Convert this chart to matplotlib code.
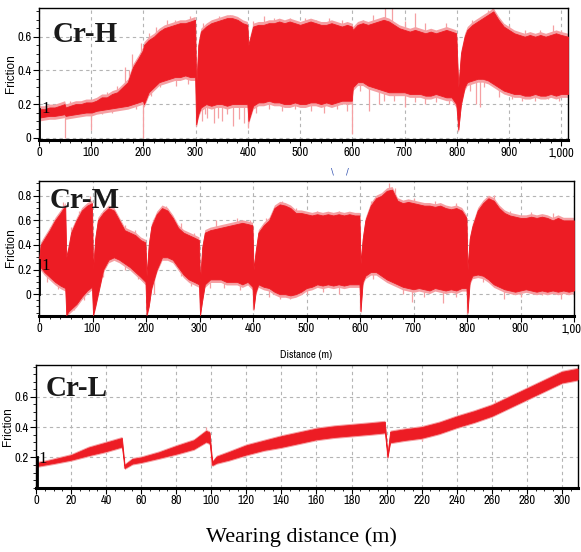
import numpy as np
import matplotlib
matplotlib.use("Agg")
import matplotlib.pyplot as plt
from matplotlib import font_manager
from matplotlib.ticker import MultipleLocator, FuncFormatter, FixedLocator

# ---------------- data ----------------
# Cr-H : distance (m), upper / lower envelope of the dense friction trace
h_dist = [0, 1, 10, 20, 30, 40, 49, 51, 60, 70, 80, 90, 99, 101, 110, 120, 130, 140, 150, 160,
          170, 180, 190, 199, 201, 210, 220, 230, 240, 250, 260, 270, 280, 290, 299, 301, 305,
          310, 320, 330, 340, 350, 360, 370, 380, 390, 399, 401, 410, 420, 430, 440, 450, 460,
          470, 480, 490, 500, 510, 520, 530, 540, 550, 560, 570, 580, 590, 599, 601, 610, 620,
          630, 640, 650, 660, 670, 680, 690, 700, 710, 720, 730, 740, 750, 760, 770, 780, 790,
          799, 803, 808, 815, 820, 830, 840, 850, 860, 870, 880, 890, 900, 910, 920, 930, 940,
          950, 960, 970, 980, 990, 1000, 1013]
h_upper = [0.13, 0.17, 0.17, 0.18, 0.18, 0.19, 0.20, 0.18, 0.19, 0.20, 0.20, 0.21, 0.21, 0.21,
           0.22, 0.24, 0.24, 0.26, 0.27, 0.30, 0.33, 0.42, 0.47, 0.52, 0.55, 0.58, 0.60, 0.63,
           0.65, 0.66, 0.67, 0.68, 0.68, 0.69, 0.70, 0.30, 0.55, 0.63, 0.66, 0.68, 0.69, 0.70,
           0.71, 0.71, 0.70, 0.68, 0.67, 0.55, 0.66, 0.67, 0.67, 0.68, 0.68, 0.69, 0.68, 0.69,
           0.68, 0.67, 0.68, 0.69, 0.68, 0.67, 0.67, 0.68, 0.67, 0.66, 0.67, 0.66, 0.64, 0.67,
           0.68, 0.67, 0.68, 0.69, 0.70, 0.69, 0.67, 0.65, 0.64, 0.63, 0.64, 0.63, 0.62, 0.63,
           0.62, 0.63, 0.64, 0.63, 0.62, 0.30, 0.50, 0.60, 0.64, 0.67, 0.69, 0.71, 0.73, 0.75,
           0.70, 0.66, 0.64, 0.62, 0.61, 0.60, 0.61, 0.60, 0.61, 0.60, 0.61, 0.62, 0.61, 0.60]
h_lower = [0.12, 0.12, 0.125, 0.13, 0.13, 0.135, 0.14, 0.13, 0.135, 0.14, 0.145, 0.15, 0.15,
           0.15, 0.16, 0.165, 0.17, 0.175, 0.18, 0.185, 0.19, 0.20, 0.21, 0.22, 0.20, 0.27,
           0.30, 0.33, 0.34, 0.35, 0.36, 0.36, 0.37, 0.36, 0.36, 0.08, 0.14, 0.18, 0.20, 0.19,
           0.20, 0.20, 0.19, 0.20, 0.20, 0.20, 0.20, 0.10, 0.19, 0.21, 0.21, 0.22, 0.21, 0.21,
           0.20, 0.20, 0.21, 0.20, 0.20, 0.21, 0.21, 0.20, 0.21, 0.20, 0.21, 0.22, 0.22, 0.22,
           0.30, 0.33, 0.33, 0.31, 0.30, 0.29, 0.28, 0.27, 0.27, 0.27, 0.27, 0.26, 0.26, 0.26,
           0.25, 0.25, 0.26, 0.25, 0.24, 0.24, 0.20, 0.05, 0.20, 0.30, 0.33, 0.34, 0.35, 0.35,
           0.34, 0.32, 0.30, 0.28, 0.27, 0.26, 0.26, 0.25, 0.25, 0.26, 0.25, 0.25, 0.26, 0.25,
           0.26, 0.26]
h_spike_dist = [50, 100, 200, 300, 322, 335, 350, 372, 392, 400, 600, 632, 652, 700, 803, 836,
                845, 18, 120, 140, 160, 185, 215, 232, 262, 285, 312, 318, 342, 360, 383, 415,
                440, 465, 490, 520, 545, 570, 590, 615, 660, 680, 720, 740, 760, 785, 825, 852,
                880, 905, 925, 950, 975, 995,
                165, 178, 195, 245, 430, 555, 640, 663, 676, 720, 860, 868, 985, 60, 130, 150,
                172, 210, 225, 260, 290, 315, 345, 365, 410, 450, 480, 510, 530, 580, 620, 700,
                740, 780, 830, 900, 930, 960, 1000]
h_spike_val = [0.0, 0.045, 0.0, 0.07, 0.12, 0.09, 0.10, 0.07, 0.09, 0.06, 0.025, 0.16, 0.20,
               0.18, 0.04, 0.20, 0.18, 0.11, 0.14, 0.15, 0.17, 0.17, 0.25, 0.30, 0.31, 0.32,
               0.10, 0.14, 0.12, 0.14, 0.11, 0.15, 0.17, 0.16, 0.17, 0.16, 0.15, 0.17, 0.16,
               0.28, 0.22, 0.22, 0.21, 0.20, 0.21, 0.20, 0.28, 0.30, 0.24, 0.23, 0.22, 0.22,
               0.23, 0.22,
               0.42, 0.50, 0.56, 0.70, 0.72, 0.71, 0.73, 0.78, 0.78, 0.74, 0.76, 0.78, 0.67,
               0.22, 0.27, 0.31, 0.40, 0.62, 0.66, 0.70, 0.72, 0.68, 0.72, 0.73, 0.69, 0.71,
               0.71, 0.71, 0.70, 0.70, 0.70, 0.69, 0.68, 0.68, 0.70, 0.67, 0.64, 0.64, 0.64]

# Cr-M
m_dist = [0, 3, 10, 20, 30, 40, 49, 51, 55, 60, 70, 80, 90, 99, 101, 105, 110, 120, 130, 140,
          150, 160, 170, 180, 190, 199, 201, 205, 210, 220, 230, 240, 250, 260, 270, 280, 290,
          299, 301, 305, 310, 320, 330, 340, 350, 360, 370, 380, 390, 399, 401, 405, 410, 420,
          430, 440, 450, 460, 470, 480, 490, 500, 510, 520, 530, 540, 550, 560, 570, 580, 590,
          599, 601, 605, 610, 620, 630, 640, 650, 660, 670, 680, 690, 700, 710, 720, 730, 740,
          750, 760, 770, 780, 790, 799, 801, 805, 810, 820, 830, 840, 850, 860, 870, 880, 890,
          900, 910, 920, 930, 940, 950, 960, 970, 980, 990, 1000]
m_upper = [0.28, 0.40, 0.45, 0.52, 0.60, 0.66, 0.72, 0.30, 0.38, 0.50, 0.60, 0.68, 0.72, 0.74,
           0.20, 0.45, 0.60, 0.66, 0.70, 0.68, 0.60, 0.52, 0.50, 0.48, 0.44, 0.42, 0.15, 0.40,
           0.55, 0.65, 0.70, 0.68, 0.62, 0.54, 0.50, 0.48, 0.46, 0.44, 0.10, 0.38, 0.50, 0.52,
           0.53, 0.54, 0.55, 0.56, 0.57, 0.58, 0.57, 0.56, 0.20, 0.35, 0.50, 0.56, 0.60, 0.70,
           0.73, 0.72, 0.70, 0.66, 0.66, 0.65, 0.64, 0.65, 0.64, 0.65, 0.64, 0.65, 0.64, 0.65,
           0.64, 0.64, 0.25, 0.45, 0.60, 0.72, 0.78, 0.80, 0.84, 0.85, 0.76, 0.74, 0.75, 0.74,
           0.73, 0.72, 0.72, 0.71, 0.72, 0.70, 0.69, 0.70, 0.68, 0.62, 0.20, 0.45, 0.55, 0.68,
           0.74, 0.78, 0.76, 0.70, 0.66, 0.64, 0.63, 0.62, 0.62, 0.63, 0.62, 0.63, 0.62, 0.60,
           0.62, 0.60, 0.60, 0.60]
m_lower = [0.20, 0.22, 0.18, 0.14, 0.10, 0.07, 0.05, -0.17, -0.14, -0.12, -0.08, -0.02, 0.03,
           0.06, -0.17, -0.10, 0.00, 0.20, 0.28, 0.30, 0.28, 0.25, 0.22, 0.18, 0.14, 0.10, -0.17,
           -0.10, 0.05, 0.20, 0.30, 0.30, 0.28, 0.22, 0.16, 0.12, 0.10, 0.08, -0.17, -0.05,
           0.08, 0.12, 0.12, 0.12, 0.10, 0.10, 0.10, 0.08, 0.10, 0.06, -0.12, 0.02, 0.08, 0.06,
           0.05, 0.02, 0.00, 0.00, -0.01, 0.00, 0.02, 0.05, 0.06, 0.08, 0.07, 0.08, 0.07, 0.08,
           0.07, 0.08, 0.08, 0.08, -0.14, 0.10, 0.15, 0.18, 0.18, 0.15, 0.12, 0.10, 0.08, 0.06,
           0.05, 0.04, 0.05, 0.04, 0.03, 0.05, 0.04, 0.03, 0.04, 0.03, 0.05, 0.05, -0.15, 0.10,
           0.15, 0.16, 0.15, 0.12, 0.08, 0.06, 0.04, 0.03, 0.02, 0.03, 0.04, 0.03, 0.02, 0.03,
           0.02, 0.03, 0.02, 0.03, 0.02, 0.03]
m_spike_dist = [400, 470, 600, 698, 755, 800, 870, 975, 15, 35, 65, 85, 120, 160, 185, 215, 265,
                285, 320, 345, 375, 430, 450, 500, 530, 560, 625, 680, 720, 780, 830, 900, 940,
                1000,
                45, 95, 135, 237, 455, 590, 655, 665, 850, 20, 60, 75, 115, 160, 180, 215, 265,
                290, 330, 370, 395, 425, 480, 520, 560, 620, 700, 740, 780, 880, 920, 960]
m_spike_val = [-0.13, -0.04, -0.14, -0.06, -0.07, -0.16, -0.04, -0.04, 0.10, 0.04, -0.13, -0.05,
               0.14, 0.20, 0.12, 0.00, 0.15, 0.07, 0.05, 0.05, 0.03, -0.02, -0.04, 0.00, 0.02,
               0.00, 0.12, 0.00, -0.02, -0.02, 0.10, -0.02, -0.01, -0.02,
               0.75, 0.80, 0.72, 0.72, 0.76, 0.66, 0.90, 0.86, 0.81, 0.55, 0.55, 0.68, 0.66,
               0.56, 0.52, 0.62, 0.58, 0.50, 0.60, 0.62, 0.60, 0.62, 0.70, 0.68, 0.68, 0.76,
               0.78, 0.76, 0.74, 0.68, 0.67, 0.66]

# Cr-L : centre of the trace and half-width of the band
l_dist = [0, 1, 5, 10, 20, 30, 40, 49, 50.5, 55, 60, 70, 80, 90, 97, 99, 100.5, 103, 110, 120,
          130, 140, 150, 160, 170, 180, 190, 199, 200.5, 202, 210, 220, 230, 240, 250, 260, 270,
          280, 290, 300, 309]
l_centre = [0.14, 0.155, 0.163, 0.175, 0.20, 0.24, 0.27, 0.30, 0.14, 0.175, 0.185, 0.215,
            0.25, 0.285, 0.34, 0.33, 0.16, 0.185, 0.21, 0.25, 0.28, 0.305, 0.33, 0.355, 0.37,
            0.38, 0.39, 0.40, 0.21, 0.335, 0.35, 0.365, 0.395, 0.435, 0.47, 0.51, 0.565, 0.62,
            0.675, 0.73, 0.75]
l_half = [0.005, 0.010, 0.010, 0.012, 0.015, 0.025, 0.028, 0.028, 0.010, 0.015, 0.015, 0.018,
          0.025, 0.028, 0.035, 0.035, 0.010, 0.020, 0.025, 0.030, 0.030, 0.035, 0.035, 0.035,
          0.035, 0.035, 0.035, 0.035, 0.010, 0.035, 0.035, 0.035, 0.035, 0.035, 0.035, 0.035,
          0.035, 0.035, 0.035, 0.035, 0.035]
l_spike_dist = [50, 97, 100, 200, 220, 262, 292]
l_spike_val = [0.13, 0.40, 0.15, 0.20, 0.31, 0.58, 0.70]

# ---------------- styling ----------------
RED = "#ed1c24"
PINK = "#f5a0a3"
GRID = "#b4b4b4"
SERIF = ["Liberation Serif", "DejaVu Serif"]

_names = {f.name for f in font_manager.fontManager.ttflist}
NARROW = ["DejaVu Sans"]
for cand in ["Liberation Sans Narrow", "Archivo Narrow", "Roboto Condensed", "Asap Condensed",
             "Barlow Condensed"]:
    if cand in _names:
        NARROW = [cand, "DejaVu Sans"]
        break

fig = plt.figure(figsize=(5.81, 5.52), dpi=100)
W, H = 581, 552


def add_ax(l, t, r, b):
    return fig.add_axes([l / W, 1 - b / H, (r - l) / W, (b - t) / H])


def style(ax, xlim, ylim, xmaj, xmin, yticks, ylabels, yminor, xfmt):
    ax.set_xlim(*xlim)
    ax.set_ylim(*ylim)
    ax.xaxis.set_major_locator(MultipleLocator(xmaj))
    ax.xaxis.set_minor_locator(MultipleLocator(xmin))
    ax.xaxis.set_major_formatter(FuncFormatter(xfmt))
    ax.yaxis.set_major_locator(FixedLocator(yticks))
    ax.set_yticklabels(ylabels)
    ax.yaxis.set_minor_locator(MultipleLocator(yminor))
    ax.grid(True, which="major", color=GRID, linestyle=(0, (3, 3)), linewidth=0.8)
    ax.set_axisbelow(True)
    ax.tick_params(which="major", length=4, width=0.8, labelsize=9, pad=1.5)
    ax.tick_params(which="minor", length=2, width=0.6)
    for lab in ax.get_xticklabels() + ax.get_yticklabels():
        lab.set_family(NARROW)
    for s in ["left", "top", "right"]:
        ax.spines[s].set_linewidth(1.0)
    ax.spines["bottom"].set_linewidth(2.2)


def band(ax, d, lo, hi, sd, sv, fringe):
    lo = np.array(lo)
    hi = np.array(hi)
    ax.fill_between(d, lo - fringe, hi + fringe, color=PINK, linewidth=0, zorder=2.4)
    ax.fill_between(d, lo, hi, color=RED, linewidth=0.6, edgecolor=RED, zorder=3)
    mid = np.interp(sd, d, (lo + hi) / 2)
    ax.vlines(sd, np.minimum(mid, sv), np.maximum(mid, sv), color=PINK, linewidth=0.9,
              zorder=2.5)


fmt_comma = lambda v, p: "{:,}".format(int(round(v)))
fmt_int = lambda v, p: "{:d}".format(int(round(v)))


def ylab(x, y):
    fig.text(x / W, 1 - y / H, "Friction", rotation=90, fontsize=8.5, ha="center", va="center",
             family=["Liberation Sans", "DejaVu Sans"])


# ---- Cr-H ----
ax1 = add_ax(39, 8, 568, 139.5)
band(ax1, h_dist, h_lower, h_upper, h_spike_dist, h_spike_val, 0.02)
style(ax1, (0, 1013), (-0.01, 0.77), 100, 20, [0, 0.2, 0.4, 0.6], ["0", "0.2", "0.4", "0.6"],
      0.05, fmt_comma)
ax1.plot([0.5, 0.5], [0.0, 0.17], color="black", lw=2.0, zorder=4)
ax1.text(4, 0.15, "1", fontsize=12, color="black", family=SERIF, zorder=5)
ylab(11, 74)
ax1.text(0.026, 0.74, "Cr-H", transform=ax1.transAxes, fontsize=21, fontweight="bold",
         family=SERIF, color="#1a1a1a", zorder=6)

# ---- Cr-M ----
ax2 = add_ax(39, 181, 574, 315.7)
band(ax2, m_dist, m_lower, m_upper, m_spike_dist, m_spike_val, 0.025)
style(ax2, (0, 1000), (-0.175, 0.92), 100, 20, [0, 0.2, 0.4, 0.6, 0.8],
      ["0", "0.2", "0.4", "0.6", "0.8"], 0.05, fmt_comma)
ax2.plot([0.5, 0.5], [0.0, 0.28], color="black", lw=2.0, zorder=4)
ax2.text(4, 0.2, "1", fontsize=12, color="black", family=SERIF, zorder=5)
ylab(11, 248)
ax2.text(0.02, 0.80, "Cr-M", transform=ax2.transAxes, fontsize=21, fontweight="bold",
         family=SERIF, color="#1a1a1a", zorder=6)

# ---- Cr-L ----
ax3 = add_ax(36, 365, 577.7, 487.7)
lc = np.array(l_centre)
lh = np.array(l_half)
band(ax3, l_dist, lc - lh, lc + lh, l_spike_dist, l_spike_val, 0.01)
style(ax3, (0, 309), (0, 0.81), 20, 5, [0.2, 0.4, 0.6], ["0.2", "0.4", "0.6"], 0.05, fmt_int)
ax3.plot([0.4, 0.4], [0.0, 0.2], color="black", lw=2.0, zorder=4)
ax3.text(1.5, 0.16, "1", fontsize=12, color="black", family=SERIF, zorder=5)
ylab(8.5, 427)
ax3.text(0.018, 0.745, "Cr-L", transform=ax3.transAxes, fontsize=21, fontweight="bold",
         family=SERIF, color="#1a1a1a", zorder=6)

# ---- loose texts ----
fig.text(306 / W, 1 - 355 / H, "Distance (m)", fontsize=8, family=NARROW, ha="center",
         va="center")
fig.text(301 / W, 1 - 537 / H, "Wearing distance (m)", fontsize=16, family=SERIF,
         ha="center", va="center")
fig.text(332 / W, 1 - 172 / H, "\\", fontsize=6, color="#3050b0", ha="center", va="center")
fig.text(347 / W, 1 - 172 / H, "/", fontsize=6, color="#3050b0", ha="center", va="center")

fig.savefig("out.png", dpi=100)
